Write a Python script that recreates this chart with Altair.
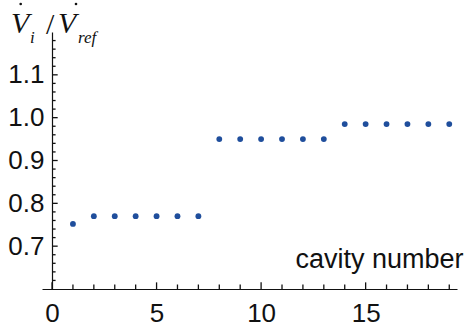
import altair as alt
import pandas as pd

# Flow ratio per cavity
cavity = list(range(1, 20))
ratio = [0.752,
         0.770, 0.770, 0.770, 0.770, 0.770, 0.770,
         0.950, 0.950, 0.950, 0.950, 0.950, 0.950,
         0.985, 0.985, 0.985, 0.985, 0.985, 0.985]

x_labels = [0, 5, 10, 15]
y_labels = [0.7, 0.8, 0.9, 1.0, 1.1]
x_minor = [v for v in range(0, 20) if v not in x_labels]
y_minor = [round(0.6 + 0.02 * k, 2) for k in range(1, 30) if k % 5 != 0]

W, H = 415, 257
X_DOMAIN = [-0.48, 19.37]
Y_DOMAIN = [0.6, 1.2]
INK = "#111111"
BLUE = "#1f4e9c"
SANS = "Liberation Sans"
SERIF = "Liberation Serif"

df = pd.DataFrame({"cavity": cavity, "ratio": ratio})

xs = alt.Scale(domain=X_DOMAIN, nice=False, zero=False)
ys = alt.Scale(domain=Y_DOMAIN, nice=False, zero=False)

x_axis = alt.Axis(
    values=x_labels, format="d", ticks=False, tickSize=0, grid=False,
    labelFontSize=26, labelFont=SANS, labelColor=INK, labelPadding=11,
    domainColor=INK, domainWidth=1.2,
    title="cavity number", titleFont=SANS, titleFontSize=27,
    titleFontWeight="normal", titleColor=INK, titleX=421, titleY=-22,
    titleAlign="right", titleBaseline="alphabetic")
y_axis = alt.Axis(
    values=y_labels, format=".1f", ticks=False, tickSize=0, grid=False,
    labelFontSize=26, labelFont=SANS, labelColor=INK, labelPadding=8,
    domainColor=INK, domainWidth=1.2, offset=-10, title=None)


# inward tick marks on the x axis (length given in y data units)
def x_ticks(vals, length):
    return alt.Chart(pd.DataFrame({"t": vals})).mark_rule(
        color=INK, strokeWidth=1.3).encode(
        x=alt.X("t:Q", scale=xs, axis=x_axis),
        y=alt.datum(Y_DOMAIN[0]), y2=alt.datum(Y_DOMAIN[0] + length))


# inward tick marks on the y axis (length given in x data units)
def y_ticks(vals, length):
    return alt.Chart(pd.DataFrame({"t": vals})).mark_rule(
        color=INK, strokeWidth=1.3).encode(
        y=alt.Y("t:Q", scale=ys, axis=y_axis),
        x=alt.datum(0.0), x2=alt.datum(length))


points = alt.Chart(df).mark_circle(size=34, color=BLUE, opacity=1).encode(
    x=alt.X("cavity:Q", scale=xs, axis=x_axis),
    y=alt.Y("ratio:Q", scale=ys, axis=y_axis),
)

# y axis title: V-dot_i / V-dot_ref
title_parts = pd.DataFrame({
    "txt": ["V", "i", "/", "V", "ref"],
    "px": [-31, -12, 4, 16, 36],
    "py": [1, 11, 2, 1, 11],
    "fs": [30, 17, 30, 30, 17],
    "st": ["italic", "italic", "normal", "italic", "italic"],
})


def part(i):
    r = title_parts.iloc[i]
    return alt.Chart(pd.DataFrame({"txt": [r.txt]})).mark_text(
        font=SERIF, fontSize=float(r.fs), fontStyle=r.st, color=INK,
        align="left", baseline="alphabetic").encode(
        text="txt:N", x=alt.value(float(r.px)), y=alt.value(float(r.py)))


# the time-derivative dots over the two V's
def dot(px):
    return alt.Chart(pd.DataFrame({"k": [0]})).mark_circle(
        size=7, color=INK, opacity=1).encode(
        x=alt.value(px), y=alt.value(-28.0))


chart = alt.layer(
    x_ticks(x_labels, 0.0155), x_ticks(x_minor, 0.0105),
    y_ticks(y_labels, 0.27), y_ticks(y_minor, 0.17),
    points,
    *[part(i) for i in range(len(title_parts))],
    dot(-21.3), dot(34.0),
).properties(
    width=W, height=H,
    autosize=alt.AutoSizeParams(type="none"),
    padding={"left": 42, "top": 32, "right": 12, "bottom": 42},
).configure_view(stroke=None)

chart.save("out.html", embed_options={"renderer": "svg", "actions": False})
